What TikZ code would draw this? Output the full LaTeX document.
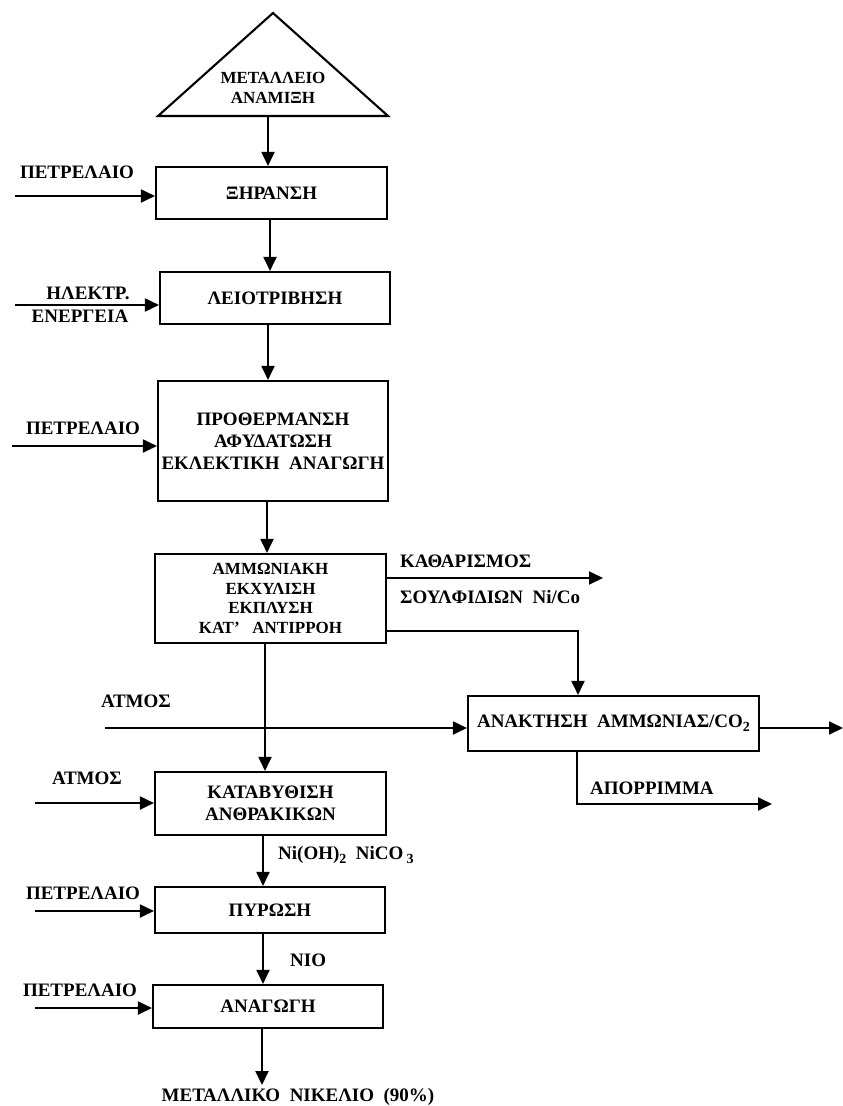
\documentclass[tikz,border=0pt]{standalone}
\usepackage{fontspec}
\setmainfont{Liberation Serif}
\usetikzlibrary{arrows.meta,calc}
\newcommand{\lowidx}[1]{\raisebox{-0.45ex}{\fontsize{14}{14}\selectfont #1}}
\begin{document}
\begin{tikzpicture}[x=1pt,y=-1pt,
  every node/.style={font=\bfseries\fontsize{19}{22}\selectfont, inner sep=0pt},
  box/.style={draw, line width=2.1pt, align=center},
  tight/.style={font=\bfseries\fontsize{17}{19.5}\selectfont},
  flow/.style={line width=1.9pt, -{Triangle[length=14pt,width=13pt]}},
  lbl/.style={anchor=center},
  lblw/.style={anchor=west},
]
\useasboundingbox (0,0) rectangle (843,1106);

% source: ore from the mine
\coordinate (apex) at (273,13);
\coordinate (tl) at (158,116);
\coordinate (tr) at (388,116);
\draw[line width=2.1pt, line join=miter] (apex) -- (tr) -- (tl) -- cycle;
\node[align=center, tight] (mine) at (273,88) {ΜΕΤΑΛΛΕΙΟ\\ΑΝΑΜΙΞΗ};
\coordinate (tribase) at (268,116);

% process units
\node[box, minimum width=231pt, minimum height=52pt] (b1) at (271.5,193) {ΞΗΡΑΝΣΗ};
\node[box, minimum width=230pt, minimum height=52pt] (b2) at (275,298) {ΛΕΙΟΤΡΙΒΗΣΗ};
\node[box, minimum width=230pt, minimum height=120pt] (b3) at (273,441) {ΠΡΟΘΕΡΜΑΝΣΗ\\ΑΦΥΔΑΤΩΣΗ\\ΕΚΛΕΚΤΙΚΗ\ \ ΑΝΑΓΩΓΗ};
\node[box, tight, minimum width=231pt, minimum height=89pt] (b4) at (270.5,598.5) {ΑΜΜΩΝΙΑΚΗ\\ΕΚΧΥΛΙΣΗ\\ΕΚΠΛΥΣΗ\\ΚΑΤ'\ \ \ ΑΝΤΙΡΡΟΗ};
\node[box, minimum width=291pt, minimum height=55pt] (b5) at (613.5,723.5) {ΑΝΑΚΤΗΣΗ\ \ ΑΜΜΩΝΙΑΣ/CO\lowidx{2}};
\node[box, minimum width=231pt, minimum height=63pt] (b6) at (270.5,803.5) {ΚΑΤΑΒΥΘΙΣΗ\\ΑΝΘΡΑΚΙΚΩΝ};
\node[box, minimum width=230pt, minimum height=46pt] (b7) at (270,910) {ΠΥΡΩΣΗ};
\node[box, minimum width=230pt, minimum height=43pt] (b8) at (268,1006.5) {ΑΝΑΓΩΓΗ};

% main vertical flow
\draw[flow] (tribase) -- (tribase |- b1.north);
\coordinate (v12) at (270,0);
\draw[flow] (b1.south -| v12) -- (b2.north -| v12);
\coordinate (v23) at (268,0);
\draw[flow] (b2.south -| v23) -- (b3.north -| v23);
\coordinate (v34) at (267,0);
\draw[flow] (b3.south -| v34) -- (b4.north -| v34);
\coordinate (v46) at (265,0);
\draw[flow] (b4.south -| v46) -- (b6.north -| v46);
\coordinate (v67) at (263,0);
\draw[flow] (b6.south -| v67) -- (b7.north -| v67);
\draw[flow] (b7.south -| v67) -- (b8.north -| v67);
\coordinate (fin) at (262,1085);
\draw[flow] (b8.south -| fin) -- (fin);

% side inputs
\coordinate (in1) at (15,196);
\draw[flow] (in1) -- (in1 -| b1.west);
\node[lbl] (l1) at (77,172) {ΠΕΤΡΕΛΑΙΟ};

\coordinate (in2) at (15,305);
\draw[flow] (in2) -- (in2 -| b2.west);
\node[lbl] (l2a) at (88,293) {ΗΛΕΚΤΡ.};
\node[lbl] (l2b) at (80,316) {ΕΝΕΡΓΕΙΑ};

\coordinate (in3) at (12,446);
\draw[flow] (in3) -- (in3 -| b3.west);
\node[lbl] (l3) at (83,428) {ΠΕΤΡΕΛΑΙΟ};

\coordinate (in5) at (105,728);
\draw[flow] (in5) -- (in5 -| b5.west);
\node[lbl] (l5) at (136,701) {ΑΤΜΟΣ};

\coordinate (in6) at (35,803);
\draw[flow] (in6) -- (in6 -| b6.west);
\node[lbl] (l6) at (87,778) {ΑΤΜΟΣ};

\coordinate (in7) at (35,911);
\draw[flow] (in7) -- (in7 -| b7.west);
\node[lbl] (l7) at (83,893) {ΠΕΤΡΕΛΑΙΟ};

\coordinate (in8) at (35,1008);
\draw[flow] (in8) -- (in8 -| b8.west);
\node[lbl] (l8) at (80,990) {ΠΕΤΡΕΛΑΙΟ};

% outputs on the right
\coordinate (o4) at (603,578);
\draw[flow] (b4.east |- o4) -- (o4);
\node[lblw] (k1) at (400,561) {ΚΑΘΑΡΙΣΜΟΣ};
\node[lblw] (k2) at (400,597) {ΣΟΥΛΦΙΔΙΩΝ\ \ Ni/Co};

\coordinate (j45) at (578,631);
\draw[flow] (b4.east |- j45) -- (j45) -- (j45 |- b5.north);

\coordinate (out5) at (843,728);
\draw[flow] (b5.east |- out5) -- (out5);

\coordinate (w1) at (577,804);
\coordinate (w2) at (772,804);
\draw[flow] (b5.south -| w1) -- (w1) -- (w2);
\node[lblw] (wl) at (590,788) {ΑΠΟΡΡΙΜΜΑ};

% intermediate products and final product
\node[lblw] (p1) at (278,855) {Ni(OH)\lowidx{2}\ \ NiCO\,\lowidx{3}};
\node[lblw] (p2) at (290,960) {ΝΙΟ};
\node[lbl] (p3) at (298,1097) {ΜΕΤΑΛΛΙΚΟ\ \ ΝΙΚΕΛΙΟ\ \ (90\%)};
\end{tikzpicture}
\end{document}
